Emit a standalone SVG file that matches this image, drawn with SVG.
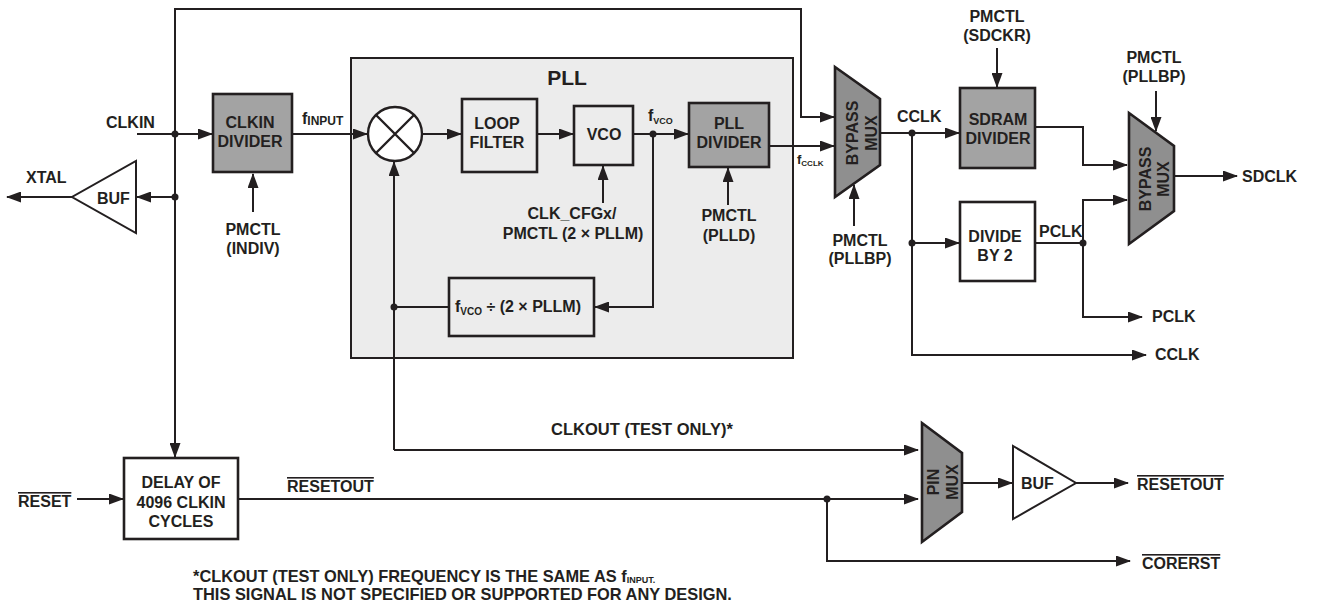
<svg xmlns="http://www.w3.org/2000/svg" width="1338" height="606" viewBox="0 0 1338 606">
<defs>
<style>
text{font-family:"Liberation Sans",Arial,sans-serif;font-weight:bold;font-size:16px;fill:#231f20}
.c{text-anchor:middle}
.ln{fill:none;stroke:#231f20;stroke-width:2}
.arr{marker-end:url(#ah)}
.box{stroke:#231f20;stroke-width:2.6}
.gray{fill:#a3a3a3}
.mux{fill:#8f8f8f;stroke:#231f20;stroke-width:2.6}
.mt{font-size:16px}
.wht{fill:#ffffff}
.pllin{fill:#ececec}
.ov{text-decoration:overline}
.dot{fill:#231f20}
.fn{font-size:16.4px}
</style>
<marker id="ah" markerWidth="15" markerHeight="11" refX="14" refY="5.5" orient="auto" markerUnits="userSpaceOnUse">
<path d="M0,0 L15,5.5 L0,11 z" fill="#231f20"/>
</marker>
</defs>
<rect width="1338" height="606" fill="#ffffff"/>

<g id="pll">
<rect x="351" y="58" width="442" height="300" fill="#ececec" stroke="#231f20" stroke-width="2"/>
<text x="567" y="85" class="c" style="font-size:21px">PLL</text>
</g>

<g id="connectors">
<path class="ln arr" d="M137,134 H212"/>
<path class="ln arr" d="M175,134 V9 H801 V117 H834"/>
<path class="ln arr" d="M175,134 V457"/>
<path class="ln arr" d="M175,197 H137"/>
<path class="ln arr" d="M72,197 H7"/>
<path class="ln arr" d="M253,212 V174"/>
<path class="ln arr" d="M292,134 H367"/>
<path class="ln arr" d="M422,134 H461"/>
<path class="ln arr" d="M537,134 H573"/>
<path class="ln arr" d="M633,134 H688"/>
<path class="ln arr" d="M653,134 V307 H595"/>
<path class="ln" d="M449,307 H394"/>
<path class="ln arr" d="M394,450 V162"/>
<path class="ln arr" d="M394,450 H918"/>
<path class="ln arr" d="M603,203 V166"/>
<path class="ln arr" d="M728,205 V168"/>
<path class="ln arr" d="M769,146 H834"/>
<path class="ln arr" d="M854,226 V185"/>
<path class="ln arr" d="M880,133 H959"/>
<path class="ln arr" d="M912,133 V355 H1146"/>
<path class="ln arr" d="M912,243 H959"/>
<path class="ln arr" d="M997,48 V87"/>
<path class="ln arr" d="M1035,127 H1083 V165 H1127"/>
<path class="ln" d="M1035,243 H1083"/>
<path class="ln arr" d="M1083,243 V200 H1127"/>
<path class="ln arr" d="M1083,243 V317 H1142"/>
<path class="ln arr" d="M1156,91 V131"/>
<path class="ln arr" d="M1174,176 H1237"/>
<path class="ln arr" d="M77,499 H123"/>
<path class="ln arr" d="M238,499 H918"/>
<path class="ln arr" d="M827,499 V561 H1130"/>
<path class="ln arr" d="M962,483 H1012"/>
<path class="ln arr" d="M1076,483 H1128"/>
<circle class="dot" cx="175" cy="134" r="3.5"/>
<circle class="dot" cx="175" cy="197" r="3.5"/>
<circle class="dot" cx="653" cy="134" r="3.5"/>
<circle class="dot" cx="394" cy="307" r="3.5"/>
<circle class="dot" cx="912" cy="133" r="3.5"/>
<circle class="dot" cx="912" cy="243" r="3.5"/>
<circle class="dot" cx="1083" cy="243" r="3.5"/>
<circle class="dot" cx="827" cy="499" r="3.5"/>
</g>

<g id="labels">
<text x="106" y="128">CLKIN</text>
<text x="26" y="183">XTAL</text>
<text x="302" y="124">f<tspan dy="1" style="font-size:12px">INPUT</tspan></text>
<text x="253" y="235" class="c">PMCTL</text>
<text x="253" y="254" class="c">(INDIV)</text>
<text x="572" y="219" class="c">CLK_CFGx/</text>
<text x="573" y="239" class="c">PMCTL (2 × PLLM)</text>
<text x="648" y="121">f<tspan style="font-size:9px" dy="3">VCO</tspan></text>
<text x="729" y="221" class="c">PMCTL</text>
<text x="729" y="241" class="c">(PLLD)</text>
<text x="797" y="164" style="font-size:13px">f<tspan style="font-size:8px" dy="2">CCLK</tspan></text>
<text x="860" y="246" class="c">PMCTL</text>
<text x="860" y="264" class="c">(PLLBP)</text>
<text x="897" y="122">CCLK</text>
<text x="997" y="22" class="c">PMCTL</text>
<text x="997" y="41" class="c">(SDCKR)</text>
<text x="1154" y="63" class="c">PMCTL</text>
<text x="1154" y="82" class="c">(PLLBP)</text>
<text x="1039" y="237">PCLK</text>
<text x="1242" y="182">SDCLK</text>
<text x="1152" y="322">PCLK</text>
<text x="1155" y="360">CCLK</text>
<text x="18" y="507" class="ov">RESET</text>
<text x="287" y="492" class="ov">RESETOUT</text>
<text x="642" y="435" class="c" style="font-size:16.5px">CLKOUT (TEST ONLY)*</text>
<text x="1137" y="490" class="ov">RESETOUT</text>
<text x="1142" y="569" class="ov">CORERST</text>
<text x="193" y="582" class="fn">*CLKOUT (TEST ONLY) FREQUENCY IS THE SAME AS f<tspan style="font-size:9px" dy="1">INPUT.</tspan></text>
<text x="193" y="600" class="fn">THIS SIGNAL IS NOT SPECIFIED OR SUPPORTED FOR ANY DESIGN.</text>
</g>

<g id="buf1">
<polygon points="136,161 136,233 72,197" fill="#ffffff" stroke="#231f20" stroke-width="2"/>
<text x="97" y="204">BUF</text>
</g>

<g id="clkin-divider">
<rect x="213" y="94" width="79" height="78" class="box gray"/>
<text x="250" y="128" class="c">CLKIN</text>
<text x="250" y="147" class="c">DIVIDER</text>
</g>

<g id="mixer">
<circle cx="395" cy="134" r="27" fill="#ffffff" stroke="#231f20" stroke-width="2.4"/>
<path d="M376,115 L414,153 M414,115 L376,153" stroke="#231f20" stroke-width="2.4"/>
</g>

<g id="loop-filter">
<rect x="462" y="99" width="75" height="73" class="box pllin"/>
<text x="497" y="129" class="c">LOOP</text>
<text x="497" y="148" class="c">FILTER</text>
</g>

<g id="vco">
<rect x="574" y="106" width="59" height="59" class="box pllin"/>
<text x="604" y="140" class="c">VCO</text>
</g>

<g id="pll-divider">
<rect x="689" y="103" width="80" height="64" class="box gray"/>
<text x="729" y="129" class="c">PLL</text>
<text x="729" y="148" class="c">DIVIDER</text>
</g>

<g id="fb-divider">
<rect x="449" y="278" width="145" height="58" class="box pllin"/>
<text x="455" y="312">f<tspan style="font-size:10px" dy="3">VCO</tspan><tspan dy="-3"> ÷ (2 × PLLM)</tspan></text>
</g>

<g id="bypass-mux1">
<polygon points="835,67 880,99 880,165 835,197" class="mux"/>
<text transform="translate(858,133) rotate(-90)" class="c mt">BYPASS</text>
<text transform="translate(877,133) rotate(-90)" class="c mt">MUX</text>
</g>

<g id="sdram-divider">
<rect x="960" y="88" width="75" height="80" class="box gray"/>
<text x="998" y="125" class="c">SDRAM</text>
<text x="998" y="144" class="c">DIVIDER</text>
</g>

<g id="divide-by-2">
<rect x="960" y="202" width="75" height="79" class="box wht"/>
<text x="995" y="242" class="c">DIVIDE</text>
<text x="995" y="261" class="c">BY 2</text>
</g>

<g id="bypass-mux2">
<polygon points="1129,113 1174,146 1174,211 1129,244" class="mux"/>
<text transform="translate(1151,179) rotate(-90)" class="c mt">BYPASS</text>
<text transform="translate(1169,179) rotate(-90)" class="c mt">MUX</text>
</g>

<g id="delay">
<rect x="124" y="458" width="114" height="81" class="box wht"/>
<text x="181" y="488" class="c">DELAY OF</text>
<text x="181" y="508" class="c">4096 CLKIN</text>
<text x="181" y="527" class="c">CYCLES</text>
</g>

<g id="pin-mux">
<polygon points="922,423 962,453 962,512 922,542" class="mux"/>
<text transform="translate(939,482) rotate(-90)" class="c mt">PIN</text>
<text transform="translate(958,482) rotate(-90)" class="c mt">MUX</text>
</g>

<g id="buf2">
<polygon points="1013,446 1013,519 1076,483" fill="#ffffff" stroke="#231f20" stroke-width="2"/>
<text x="1021" y="489">BUF</text>
</g>
</svg>
